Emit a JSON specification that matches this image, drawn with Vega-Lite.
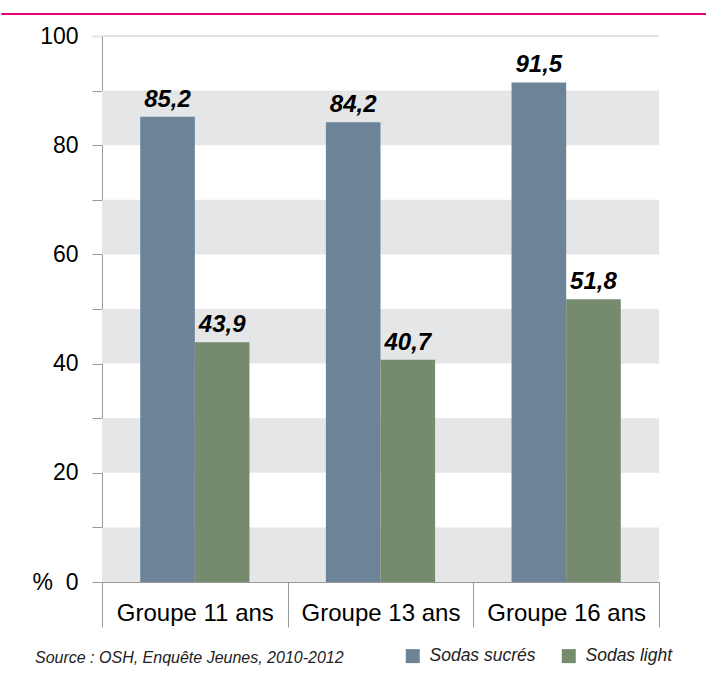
{
  "$schema": "https://vega.github.io/schema/vega-lite/v6.json",
  "background": "white",
  "padding": {"top": 12, "left": 0, "right": 0, "bottom": 0},
  "config": {
    "font": "Liberation Sans",
    "view": {"stroke": null},
    "locale": {"number": {"decimal": ",", "thousands": " ", "grouping": [3], "currency": ["", " €"]}}
  },
  "vconcat": [
    {
      "width": 705,
      "height": 1,
      "data": {"values": []},
      "mark": {"type": "rule"},
      "encoding": {},
      "view": {"stroke": "#e6007e", "strokeWidth": 1}
    },
    {
      "spacing": 29,
      "hconcat": [
        {
          "width": 1,
          "height": 1,
          "data": {"values": []},
          "mark": {"type": "rule"},
          "encoding": {}
        },
        {
          "width": 557,
          "height": 546,
          "title": {
            "text": "Source : OSH, Enquête Jeunes, 2010-2012",
            "orient": "bottom",
            "anchor": "start",
            "fontSize": 16,
            "fontStyle": "italic",
            "fontWeight": "normal",
            "color": "#222222",
            "offset": 22,
            "dx": 3
          },
          "data": {"values": [
            {"groupe": "Groupe 11 ans", "serie": "Sodas sucrés", "v": 85.2},
            {"groupe": "Groupe 11 ans", "serie": "Sodas light", "v": 43.9},
            {"groupe": "Groupe 13 ans", "serie": "Sodas sucrés", "v": 84.2},
            {"groupe": "Groupe 13 ans", "serie": "Sodas light", "v": 40.7},
            {"groupe": "Groupe 16 ans", "serie": "Sodas sucrés", "v": 91.5},
            {"groupe": "Groupe 16 ans", "serie": "Sodas light", "v": 51.8}
          ]},
          "layer": [
            {
              "data": {"values": [
                {"lo": 0, "hi": 10}, {"lo": 20, "hi": 30}, {"lo": 40, "hi": 50}, {"lo": 60, "hi": 70}, {"lo": 80, "hi": 90}
              ]},
              "mark": {"type": "rect", "color": "#e5e6e8"},
              "encoding": {
                "y": {
                  "field": "lo", "type": "quantitative", "scale": {"domain": [0, 100], "nice": false},
                  "axis": {
                    "title": null, "values": [0, 10, 20, 30, 40, 50, 60, 70, 80, 90, 100],
                    "labelExpr": "datum.value == 0 ? '%\u00a0\u00a00' : (datum.value % 20 == 0 ? datum.label : '')",
                    "tickSize": 10, "domainColor": "#999999",
                    "tickColor": {"condition": {"test": "datum.value == 100", "value": "#e3e3e3"}, "value": "#999999"},
                    "tickWidth": {"condition": {"test": "datum.value == 100", "value": 2}, "value": 1},
                    "grid": false, "labelFontSize": 23, "labelColor": "#000000", "labelPadding": 14
                  }
                },
                "y2": {"field": "hi"}
              }
            },
            {
              "mark": {"type": "rule", "color": "#e3e3e3", "strokeWidth": 2},
              "encoding": {"y": {"datum": 100, "type": "quantitative"}}
            },
            {
              "mark": {"type": "bar"},
              "encoding": {
                "x": {
                  "field": "groupe", "type": "nominal",
                  "scale": {"paddingInner": 0, "paddingOuter": 0},
                  "axis": {
                    "title": null, "labelAngle": 0, "tickBand": "extent", "tickSize": 45,
                    "tickColor": "#999999", "domainColor": "#999999", "labelFontSize": 24,
                    "labelColor": "#000000", "labelPadding": -26, "labelOverlap": false, "labelLimit": 0
                  }
                },
                "xOffset": {
                  "field": "serie", "type": "nominal",
                  "scale": {"domain": ["Sodas sucrés", "Sodas light"], "paddingInner": 0, "paddingOuter": 0.7}
                },
                "y": {"field": "v", "type": "quantitative", "title": null},
                "color": {
                  "field": "serie", "type": "nominal",
                  "scale": {"domain": ["Sodas sucrés", "Sodas light"], "range": ["#6d8498", "#768a6e"]},
                  "legend": {
                    "title": null, "orient": "none", "legendX": 403, "legendY": 634,
                    "direction": "horizontal", "symbolType": "square", "symbolSize": 196,
                    "symbolStrokeWidth": 0, "labelFontSize": 17.5, "labelFontStyle": "italic",
                    "labelColor": "#222222", "labelOffset": 8, "columnPadding": 24, "padding": 0
                  }
                }
              }
            },
            {
              "mark": {"type": "text", "fontSize": 24, "fontWeight": "bold", "fontStyle": "italic", "baseline": "alphabetic", "dy": -10, "color": "#000000"},
              "encoding": {
                "x": {"field": "groupe", "type": "nominal"},
                "xOffset": {"field": "serie", "type": "nominal"},
                "y": {"field": "v", "type": "quantitative"},
                "text": {"field": "v", "type": "quantitative", "format": ".1f"}
              }
            }
          ]
        }
      ]
    }
  ],
  "spacing": 10
}
